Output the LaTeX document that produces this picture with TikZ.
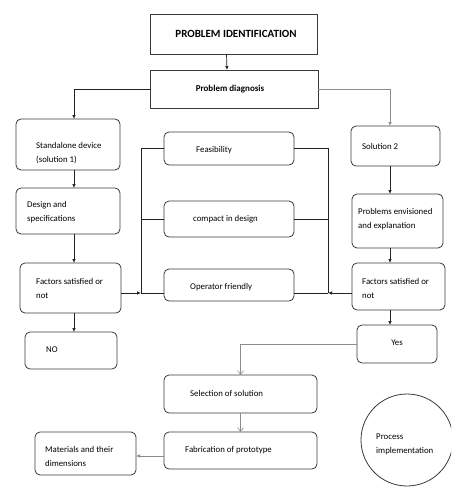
\documentclass[tikz,border=0pt]{standalone}
\usepackage{fontspec}
\setmainfont{Carlito}
\usetikzlibrary{arrows.meta,calc}
\definecolor{boxc}{HTML}{3A3A3A}
\definecolor{linec}{HTML}{222222}
\definecolor{grayc}{HTML}{8C8C8C}
\begin{document}
\begin{tikzpicture}[x=1pt,y=-1pt,
 box/.style={draw=boxc, line width=0.8pt, rounded corners=5pt, inner sep=0pt, outer sep=0pt},
 sqbox/.style={draw=boxc, line width=0.9pt, inner sep=0pt, outer sep=0pt},
 txt/.style={anchor=west, inner sep=0pt, align=left, font=\fontsize{8.8}{14}\selectfont},
 arr/.style={-{Latex[length=4pt,width=3.5pt]}, line width=0.7pt, draw=linec},
 ln/.style={line width=0.7pt, draw=linec},
 garr/.style={-{Straight Barb[length=4pt,width=6pt]}, line width=0.6pt, draw=grayc},
 gln/.style={line width=0.6pt, draw=grayc}]
\fill[white] (0,0) rectangle (451,487);
\clip (0,0) rectangle (451,487);
% boxes
\node[sqbox, minimum width=167pt, minimum height=40pt] (pi) at (233.5,34) {};
\node[sqbox, minimum width=168pt, minimum height=38pt] (pd) at (234,89) {};
\node[box, minimum width=104pt, minimum height=51pt] (sa) at (68,144.5) {};
\node[box, minimum width=104pt, minimum height=46pt] (ds) at (68,211) {};
\node[box, minimum width=101pt, minimum height=50pt] (fl) at (70.5,288) {};
\node[box, minimum width=92pt, minimum height=37pt] (no) at (71,350.5) {};
\node[box, minimum width=130pt, minimum height=33pt] (fe) at (229,148.5) {};
\node[box, minimum width=130pt, minimum height=36pt] (cd) at (229,219) {};
\node[box, minimum width=130pt, minimum height=32pt] (of) at (229,285) {};
\node[box, minimum width=89pt, minimum height=40pt] (s2) at (395.5,146) {};
\node[box, minimum width=91pt, minimum height=54pt] (pe) at (397.5,221) {};
\node[box, minimum width=93pt, minimum height=47pt] (fr) at (398.5,286.5) {};
\node[box, minimum width=80pt, minimum height=38pt] (yes) at (397,344) {};
\node[box, minimum width=153pt, minimum height=38pt] (sel) at (240.5,394) {};
\node[box, minimum width=153pt, minimum height=37pt] (fab) at (240.5,450.5) {};
\node[box, minimum width=101pt, minimum height=43pt] (mat) at (85.5,453.5) {};
\node[draw=boxc, line width=0.8pt, circle, minimum size=92pt, inner sep=0pt] (pimp) at (407,440) {};
% texts
\node[font=\bfseries\fontsize{11}{13}\selectfont, inner sep=0pt] (tpi) at (236,34) {PROBLEM IDENTIFICATION};
\node[font=\bfseries\fontsize{9}{11}\selectfont, inner sep=0pt] (tpd) at (230,89) {Problem diagnosis};
\node[txt] (tsa) at (36,153) {Standalone device\\(solution 1)};
\node[txt] (tds) at (27,212.5) {Design and\\specifications};
\node[txt] (tfl) at (36,288) {Factors satisfied or\\not};
\node[txt] (tno) at (46,350) {NO};
\node[txt] (tfe) at (196,150) {Feasibility};
\node[txt] (tcd) at (193,219) {compact in design};
\node[txt] (tof) at (190,287) {Operator friendly};
\node[txt] (ts2) at (362,146) {Solution 2};
\node[txt] (tpe) at (358,219.5) {Problems envisioned\\and explanation};
\node[txt] (tfr) at (362,288) {Factors satisfied or\\not};
\node[txt, anchor=center] (tyes) at (397,343) {Yes};
\node[txt] (tsel) at (190,393) {Selection of solution};
\node[txt] (tfab) at (185,450) {Fabrication of prototype};
\node[txt] (tmat) at (45,456) {Materials and their\\dimensions};
\node[txt] (tpimp) at (376,444) {Process\\implementation};
% helper coordinates
\coordinate (cL) at (74,0);
\coordinate (cR) at (390,0);
\coordinate (jL) at (141,293);
\coordinate (jR) at (328,293);
% connectors
\draw[arr] ([xshift=-7pt]pi.south) -- ([xshift=-7pt]pd.north);
\draw[arr] (pd.west) -| (sa.north -| cL);
\draw[gln, -{Latex[length=4pt,width=3.5pt]}] (pd.east) -| (s2.north -| cR);
\draw[arr] (sa.south -| cL) -- (ds.north -| cL);
\draw[arr] (ds.south -| cL) -- (fl.north -| cL);
\draw[arr] (fl.south -| cL) -- (no.north -| cL);
\draw[arr] (fl.east |- jL) -- (jL);
\draw[ln] (jL) -- (of.west |- jL);
\draw[ln] (jL) -- (jL |- fe.west) -- (fe.west);
\draw[ln] (jL |- cd.west) -- (cd.west);
\draw[arr] (fr.west |- jR) -- (jR);
\draw[ln] (jR) -- (of.east |- jR);
\draw[ln] (jR) -- (jR |- fe.east) -- (fe.east);
\draw[ln] (jR |- cd.east) -- (cd.east);
\draw[arr] (s2.south -| cR) -- (pe.north -| cR);
\draw[arr] (pe.south -| cR) -- (fr.north -| cR);
\draw[arr] (fr.south -| cR) -- (yes.north -| cR);
\draw[garr] (yes.west) -| (sel.north);
\draw[garr] (sel.south) -- (fab.north);
\draw[gln, -{Latex[length=4pt,width=3.5pt]}] ([yshift=-5.5pt]fab.west) -- ([yshift=-5.5pt]fab.west -| mat.east);
\end{tikzpicture}
\end{document}
